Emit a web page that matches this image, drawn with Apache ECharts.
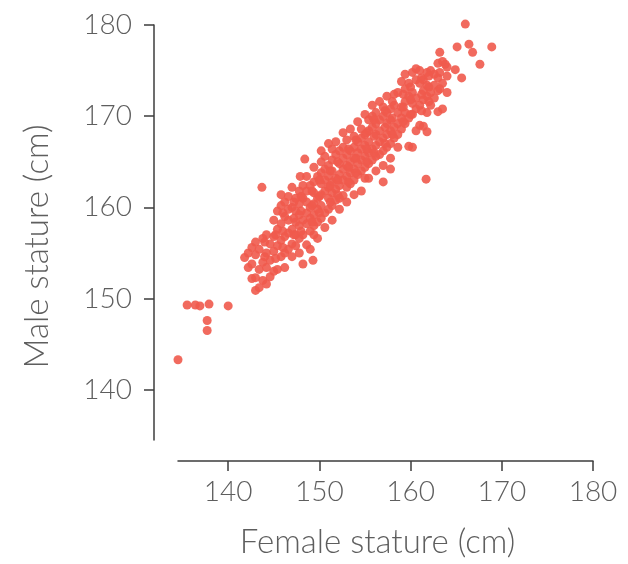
<!DOCTYPE html>
<html>
<head>
<meta charset="utf-8">
<script src="https://cdn.jsdelivr.net/npm/echarts@6/dist/echarts.min.js"></script>
<style>
  html, body { margin: 0; padding: 0; background: #fff; }
  #chart { width: 628px; height: 564px; }
</style>
</head>
<body>
<div id="chart"></div>
<script>
// tick labels (cm)
var xTicks = [140, 150, 160, 170, 180]
var yTicks = [140, 150, 160, 170, 180]

// female stature (x) -> male stature (y)
var outliers = [
  [134.5, 143.3], [135.5, 149.3], [136.4, 149.3], [136.9, 149.2], [137.9, 149.4],
  [140.0, 149.2], [137.7, 147.6], [137.7, 146.5], [143.7, 162.2], [147.9, 163.4],
  [148.4, 165.3], [161.7, 163.1], [149.3, 154.2], [166.0, 180.1], [166.4, 177.9],
  [165.1, 177.6], [163.2, 177.0], [166.8, 177.0], [168.9, 177.6], [167.6, 175.7],
  [163.8, 175.7], [164.9, 175.1], [165.6, 174.2]
]
var bandX = [
  141.8, 142.2, 142.6, 143.0, 143.4, 143.8, 144.2, 144.6, 145.0, 145.4,
  145.8, 146.2, 146.6, 147.0, 147.4, 147.8, 148.2, 148.6, 149.0, 149.4,
  149.8, 150.2, 150.6, 151.0, 151.4, 151.8, 152.2, 152.6, 153.0, 153.4,
  153.8, 154.2, 154.6, 155.0, 155.4, 155.8, 156.2, 156.6, 157.0, 157.4,
  157.8, 158.2, 158.6, 159.0, 159.4, 159.8, 160.2, 160.6, 161.0, 161.4,
  161.8, 162.2, 162.6, 163.0, 163.5, 164.0
]
var bandY = [
  [154.5],
  [153.4, 155.0],
  [152.2, 153.8, 155.6],
  [150.9, 152.3, 154.8, 156.2],
  [151.2, 153.2, 155.4],
  [152.0, 154.0, 156.6],
  [151.6, 153.4, 155.0, 157.0],
  [152.4, 154.2, 156.0],
  [153.0, 155.2, 156.8, 158.6],
  [153.2, 155.8, 157.6, 159.6],
  [154.6, 156.4, 158.2, 160.2, 161.4],
  [153.4, 155.0, 156.8, 159.0, 160.6],
  [155.4, 157.2, 158.6, 159.8, 161.2],
  [154.6, 156.0, 157.6, 160.0, 162.2],
  [155.8, 157.0, 158.4, 159.6, 161.0],
  [155.0, 156.6, 158.0, 159.2, 160.4, 161.8],
  [153.8, 157.0, 158.6, 161.0, 162.4],
  [155.9, 158.2, 159.4, 160.6, 161.8, 163.4],
  [155.4, 157.4, 158.8, 160.0, 162.4],
  [157.0, 158.0, 159.2, 160.4, 161.6, 162.8, 164.4],
  [156.6, 158.4, 159.8, 161.0, 163.4],
  [158.8, 160.2, 161.4, 162.6, 163.8, 165.0, 166.2],
  [157.8, 159.4, 161.8, 163.0, 164.2, 165.6],
  [159.8, 161.0, 162.2, 163.4, 164.6, 167.0],
  [158.6, 160.2, 161.6, 162.8, 164.0, 165.2, 166.4],
  [160.8, 162.0, 163.2, 165.8, 167.2],
  [159.8, 161.0, 162.4, 163.6, 164.8, 166.2],
  [161.3, 163.0, 164.2, 165.4, 166.6, 168.2],
  [160.6, 162.2, 163.4, 164.6, 165.8, 167.4],
  [162.6, 163.8, 165.0, 166.2, 168.6],
  [161.4, 163.0, 164.2, 165.4, 166.6, 167.8],
  [163.6, 164.8, 166.0, 167.2, 169.4],
  [161.8, 164.0, 165.2, 166.4, 167.6, 168.6],
  [163.2, 164.4, 165.6, 166.8, 168.0, 170.2],
  [163.2, 164.8, 166.0, 167.2, 168.4, 169.6],
  [165.2, 166.4, 168.8, 170.0, 171.2],
  [164.0, 165.6, 166.8, 168.0, 169.2, 170.4],
  [165.8, 167.2, 168.4, 169.6, 171.6],
  [162.8, 164.6, 166.2, 167.6, 170.0, 171.0],
  [166.6, 168.0, 169.2, 170.4, 172.2],
  [164.2, 165.4, 167.0, 168.4, 169.6, 170.8],
  [167.6, 168.8, 171.2, 172.4],
  [166.6, 168.0, 169.2, 170.4, 172.6],
  [168.6, 169.8, 171.0, 173.8],
  [169.2, 170.4, 171.6, 173.0, 174.6],
  [166.7, 169.8, 172.2, 173.6],
  [166.6, 170.2, 171.4, 172.6, 174.8],
  [168.4, 170.8, 172.0, 174.0, 175.2],
  [169.0, 171.2, 173.6, 175.0],
  [168.9, 171.8, 172.8, 174.0],
  [168.3, 170.4, 172.2, 173.4, 174.8],
  [171.2, 172.6, 175.0],
  [172.0, 173.4, 174.6],
  [170.5, 172.8, 174.2, 175.8],
  [170.8, 173.6, 176.0],
  [172.6, 174.4, 175.4]
]
// points sitting between the columns above, in the core of the band
var fillX = [
  144.0, 145.2, 146.0, 147.2, 148.0, 149.2, 150.0, 151.2, 152.0, 153.2,
  154.0, 155.2, 156.0, 157.2, 158.0, 159.2, 160.0, 161.2, 162.0, 163.2
]
var fillY = [
  [154.6, 156.2],
  [154.4, 157.0],
  [155.6, 157.4, 159.4],
  [157.0, 158.8, 160.6],
  [157.4, 159.6, 161.2],
  [158.4, 160.2, 161.8],
  [159.4, 161.2, 163.0],
  [160.6, 162.4, 164.0],
  [161.4, 163.0, 165.0],
  [162.8, 164.4, 166.4],
  [163.8, 165.4, 167.4],
  [165.0, 166.4, 168.2],
  [166.0, 167.8, 169.6],
  [167.0, 168.8, 170.6],
  [168.0, 169.8, 171.6],
  [169.4, 171.0, 172.4],
  [170.2, 171.8, 173.2],
  [170.6, 172.4, 174.2],
  [171.6, 173.2, 174.4],
  [173.0, 174.8]
]

var points = outliers.slice()
function addColumns(xs, ys) {
  xs.forEach(function(x, i) {
    ys[i].forEach(function(y) {
      points.push([x, y])
    })
  })
}
addColumns(bandX, bandY)
addColumns(fillX, fillY)

var chart = echarts.init(document.getElementById('chart'))
var axisColor = '#3c3c3c'
var textColor = '#5e5e5e'
var font = 'Lato, "Open Sans", sans-serif'

var option = {
  backgroundColor: '#fff',
  animation: false,
  grid: {
    left: 178,
    right: 35,
    top: 25,
    bottom: 120
  },
  xAxis: {
    type: 'value',
    min: 134.5,
    max: 180,
    offset: 21,
    name: 'Female stature (cm)',
    nameLocation: 'middle',
    nameGap: 65,
    nameTextStyle: { color: textColor, fontSize: 33, fontFamily: font, fontWeight: 300, padding: [0, 16, 0, 0] },
    axisLine: { show: true, lineStyle: { color: axisColor, width: 1.5 } },
    axisTick: { show: true, length: 10, customValues: xTicks, lineStyle: { color: axisColor, width: 1.5 } },
    axisLabel: { customValues: xTicks, margin: 17, color: textColor, fontSize: 28, fontFamily: font, fontWeight: 300 },
    splitLine: { show: false }
  },
  yAxis: {
    type: 'value',
    min: 134.5,
    max: 180,
    offset: 24,
    name: 'Male stature (cm)',
    nameLocation: 'middle',
    nameGap: 100,
    nameTextStyle: { color: textColor, fontSize: 33, fontFamily: font, fontWeight: 300, padding: [0, 28, 0, 0] },
    axisLine: { show: true, lineStyle: { color: axisColor, width: 1.5 } },
    axisTick: { show: true, length: 10, customValues: yTicks, lineStyle: { color: axisColor, width: 1.5 } },
    axisLabel: { customValues: yTicks, margin: 22, color: textColor, fontSize: 28, fontFamily: font, fontWeight: 300 },
    splitLine: { show: false }
  },
  series: [
    {
      type: 'scatter',
      clip: false,
      symbolSize: 9,
      itemStyle: { color: '#ef5a4c', opacity: 0.9 },
      data: points
    }
  ]
}
chart.setOption(option)
</script>
</body>
</html>
